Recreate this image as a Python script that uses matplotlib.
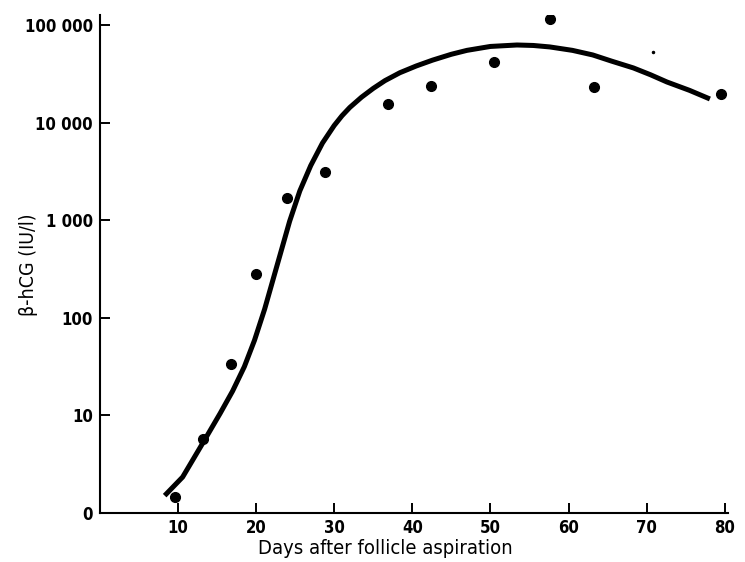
import matplotlib.pyplot as plt

# measured values (day, beta-hCG IU/l)
dias = [9.6, 13.2, 16.8, 20.0, 23.9, 28.8, 36.9, 42.4, 50.4, 57.6, 63.3, 79.5]
hcg = [1.46, 5.8, 34, 281, 1675, 3100, 15500, 23700, 42000, 115000, 23400, 19500]

# fitted curve
curva_x = [8.3, 10.6, 13.2, 15.4, 17.0, 18.5, 19.8, 21.1, 22.7, 24.3, 25.6, 27.0,
           28.5, 30.0, 31.0, 32.0, 33.5, 35.0, 36.5, 38.4, 40.5, 42.6, 45.0, 47.0,
           50.0, 53.4, 55.5, 57.6, 60.5, 63.1, 65.5, 68.3, 70.5, 72.6, 75.5, 78.1]
curva_y = [1.51, 2.34, 5.25, 10.5, 17.8, 31.6, 58.9, 123, 347, 977, 1995, 3630,
           6170, 9330, 11750, 14290, 18200, 22400, 26900, 32400, 38000, 43650, 50100, 54950,
           60260, 62370, 61660, 59570, 54950, 49320, 42660, 36310, 30900, 26060, 21380, 17460]

# tiny speck in the print
speck_x = [70.8]
speck_y = [53000]

y_ticks = [1, 10, 100, 1000, 10000, 100000]
y_labels = ["0", "10", "100", "1 000", "10 000", "100 000"]
x_ticks = [10, 20, 30, 40, 50, 60, 70, 80]

plt.rcParams['font.family'] = ['DejaVu Sans']
plt.rcParams['font.stretch'] = 'condensed'

fig = plt.figure(figsize=(7.45, 5.62), dpi=100)
ax = fig.add_axes([0.134, 0.087, 0.843, 0.886])

ax.plot(curva_x, curva_y, color="black", linewidth=3.6, solid_capstyle="butt",
        solid_joinstyle="round")
ax.plot(dias, hcg, "o", color="black", markersize=7)
ax.plot(speck_x, speck_y, "o", color="black", markersize=1.5)

ax.set_yscale("log")
ax.set_xlim(0, 80.4)
ax.set_ylim(1, 1.26e5)
ax.set_yticks(y_ticks)
ax.set_yticklabels(y_labels, fontweight="bold")
ax.yaxis.set_minor_locator(plt.NullLocator())
ax.set_xticks(x_ticks)
ax.set_xticklabels([str(t) for t in x_ticks], fontweight="bold")

ax.spines["top"].set_visible(False)
ax.spines["right"].set_visible(False)
ax.spines["left"].set_linewidth(1.5)
ax.spines["bottom"].set_linewidth(1.5)
ax.tick_params(direction="in", length=7, width=1.4, labelsize=12)
ax.tick_params(axis="y", pad=5)
ax.tick_params(axis="x", pad=4)

fig.text(385 / 745, 1 - 549 / 562, "Days after follicle aspiration", fontsize=14.5,
         ha="center", va="center")
fig.text(29 / 745, 1 - 265 / 562, "β-hCG (IU/l)", fontsize=14,
         ha="center", va="center", rotation=90)

fig.savefig("out.png", dpi=100)
